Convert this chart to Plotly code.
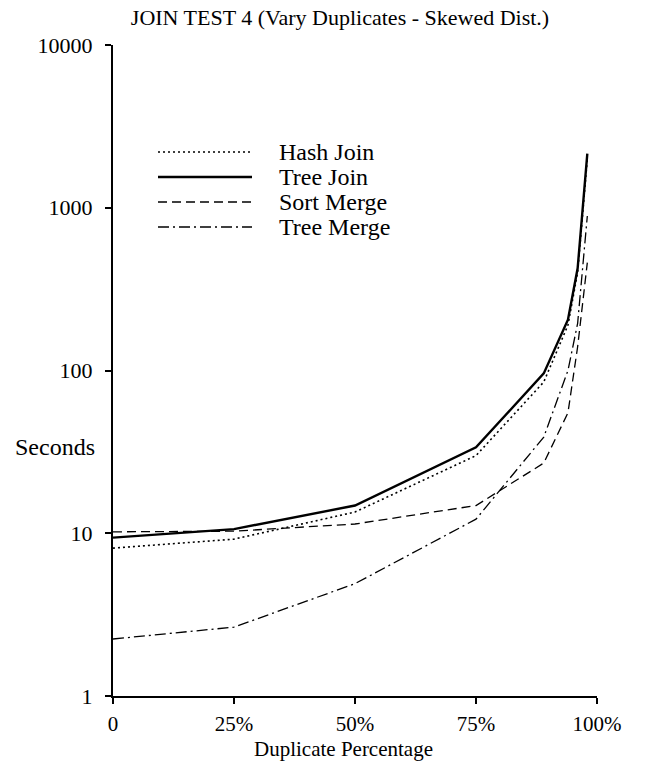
import plotly.graph_objects as go

dup_pct = [0, 25, 50, 75, 89, 94, 96, 98]
hash_join = [8.1, 9.2, 13.5, 30, 85, 190, 400, 2000]
tree_join = [9.4, 10.6, 14.8, 33.7, 96, 205, 425, 2150]
sort_merge = [10.2, 10.3, 11.4, 14.8, 27, 55, 140, 460]
tree_merge = [2.24, 2.65, 4.9, 12.2, 39, 100, 195, 890]

x_tickvals = [0, 25, 50, 75, 100]
x_ticktext = ["0", "25%", "50%", "75%", "100%"]
y_tickvals = [1, 10, 100, 1000, 10000]
y_ticktext = ["1", "10", "100", "1000", "10000"]

FONT = "Liberation Serif"

W, H = 645, 763
L, T, R, B = 113, 45, 48, 67
PW = W - L - R
PH = H - T - B


def px_x(px):
    return (px - L) / PW


def px_y(py):
    return (H - B - py) / PH


styles = {
    "Hash Join": dict(color="black", width=1.6, dash="2px,3px"),
    "Tree Join": dict(color="black", width=2.4),
    "Sort Merge": dict(color="black", width=1.3, dash="9px,5px"),
    "Tree Merge": dict(color="black", width=1.3, dash="11px,4px,2px,4px"),
}
series = [("Hash Join", hash_join), ("Tree Join", tree_join),
          ("Sort Merge", sort_merge), ("Tree Merge", tree_merge)]

fig = go.Figure()
for name, vals in series:
    fig.add_trace(go.Scatter(x=dup_pct, y=vals, mode="lines", name=name,
                             line=styles[name], showlegend=False))

# manual legend (line samples + labels)
legend_rows = [152, 177, 202, 227]
shapes = []
annotations = []
for (name, _), py in zip(series, legend_rows):
    st = styles[name]
    shapes.append(dict(type="line", xref="paper", yref="paper",
                       x0=px_x(158), x1=px_x(252), y0=px_y(py), y1=px_y(py),
                       line=dict(color="black", width=st["width"], dash=st.get("dash", "solid"))))
    annotations.append(dict(text=name, x=px_x(277), y=px_y(py), xref="paper", yref="paper",
                            xanchor="left", yanchor="middle", showarrow=False,
                            font=dict(family=FONT, size=24, color="black")))

annotations.append(dict(text="Seconds", x=px_x(55), y=px_y(447), xref="paper", yref="paper",
                        xanchor="center", yanchor="middle", showarrow=False,
                        font=dict(family=FONT, size=24, color="black")))
annotations.append(dict(text="Duplicate Percentage", x=px_x(343), y=px_y(763), xref="paper",
                        yref="paper", xanchor="center", yanchor="bottom", showarrow=False,
                        font=dict(family=FONT, size=21, color="black")))

fig.update_layout(
    width=W, height=H,
    margin=dict(l=L, t=T, r=R, b=B),
    paper_bgcolor="white", plot_bgcolor="white",
    font=dict(family=FONT, size=22, color="black"),
    title=dict(text="JOIN TEST 4 (Vary Duplicates - Skewed Dist.)", x=340 / W,
               xref="container", xanchor="center", yref="container",
               y=1 - 17 / H, yanchor="middle",
               font=dict(family=FONT, size=22, color="black")),
    showlegend=False,
    xaxis=dict(range=[0, 100], tickvals=x_tickvals, ticktext=x_ticktext,
               showgrid=False, zeroline=False, showline=True, linecolor="black", linewidth=2,
               ticks="outside", ticklen=6, tickwidth=1.5, tickcolor="black",
               ticklabelstandoff=2, tickfont=dict(family=FONT, size=21)),
    yaxis=dict(type="log", range=[0, 4], tickvals=y_tickvals, ticktext=y_ticktext,
               showgrid=False, zeroline=False, showline=True, linecolor="black", linewidth=2,
               ticks="outside", ticklen=6, tickwidth=1.5, tickcolor="black",
               ticklabelstandoff=8, tickfont=dict(family=FONT, size=22)),
    shapes=shapes,
    annotations=annotations,
)

fig.write_html("out.html", config={"displayModeBar": False},
               post_script="document.body.style.margin='0px';")
